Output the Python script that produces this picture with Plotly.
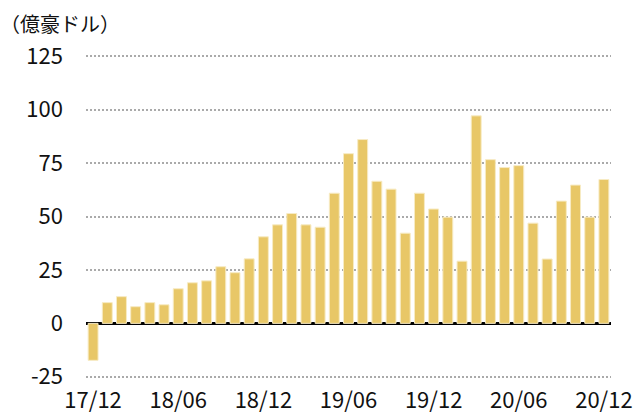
import plotly.graph_objects as go

months = []
y0, m0 = 2017, 12
for i in range(37):
    y = y0 + (m0 - 1 + i) // 12
    m = (m0 - 1 + i) % 12 + 1
    months.append(f"{y % 100:02d}/{m:02d}")

values = [-17.3, 9.7, 12.5, 7.8, 9.7, 8.7, 16.2, 19.0, 19.9, 26.5, 23.7, 30.2,
          40.5, 46.1, 51.4, 46.1, 45.0, 60.9, 79.4, 86.0, 66.5, 62.8, 42.2, 60.9,
          53.5, 49.7, 29.1, 97.1, 76.6, 72.9, 73.8, 46.9, 30.1, 57.2, 64.7, 49.7,
          67.3]

tick_labels = ["17/12", "18/06", "18/12", "19/06", "19/12", "20/06", "20/12"]
y_ticks = [-25, 0, 25, 50, 75, 100, 125]
y_tick_text = ["-25", "0", "25", "50", "75", "100", "125"]

font = "Noto Sans CJK JP"

fig = go.Figure(go.Bar(
    x=months, y=values,
    marker=dict(color="#E8C767", line=dict(color="#F7EBC4", width=1)),
))

fig.update_layout(
    width=635, height=418,
    margin=dict(l=86, r=24, t=52.8, b=38.1, autoexpand=False),
    paper_bgcolor="white", plot_bgcolor="white",
    bargap=0.3,
    showlegend=False,
    font=dict(family=font, color="#111111"),
    title=dict(text="（億豪ドル）", x=0.0, xref="container", xanchor="left",
               y=1 - 25 / 418, yref="container", yanchor="middle",
               font=dict(size=20, family=font, color="#111111")),
)

fig.update_xaxes(
    type="category",
    range=[-0.5, 36.5],
    tickvals=tick_labels, ticktext=tick_labels,
    showgrid=False, showline=False, zeroline=False, ticks="",
    automargin=False,
    tickfont=dict(size=22, family=font, color="#111111"),
    ticklabelstandoff=5,
)

fig.update_yaxes(
    range=[-26.5, 126.5],
    tickvals=y_ticks, ticktext=y_tick_text,
    showgrid=True, gridcolor="#AAAAAA", gridwidth=1.5, griddash="2px,2px",
    zeroline=True, zerolinecolor="#000000", zerolinewidth=3,
    showline=False, ticks="",
    automargin=False,
    tickfont=dict(size=22, family=font, color="#111111"),
    ticklabelstandoff=22,
)

fig.write_html("out.html",
               config={"displayModeBar": False},
               post_script="document.body.style.margin='0';document.body.style.overflow='hidden';")
